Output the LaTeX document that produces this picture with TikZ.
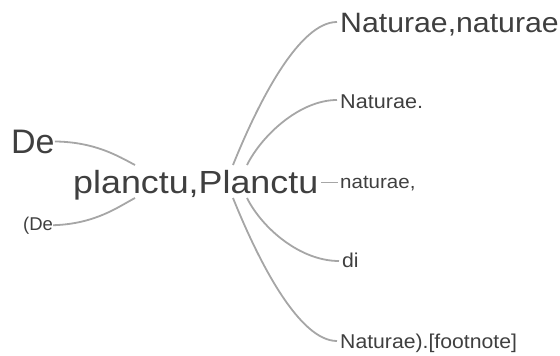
\documentclass[tikz,border=0pt]{standalone}
\usepackage{fontspec}
\setmainfont{Liberation Sans}
\usepackage{graphicx}
\definecolor{txt}{HTML}{3F3F3F}
\definecolor{lnk}{HTML}{A6A6A6}
\newcommand\hx[2]{\scalebox{#1}[1]{#2}}
\newcommand\fsz[1]{\fontsize{#1}{#1}\selectfont}
\begin{document}
\begin{tikzpicture}[x=1pt,y=-1pt,
  lbl/.style={inner sep=0pt, anchor=base west, text=txt},
  link/.style={draw=lnk, line width=1.8pt}]
\useasboundingbox (0,0) rectangle (560,356);
% nodes
\node[lbl, font=\fsz{34}] (de) at (11,153) {De};
\node[lbl, font=\fsz{18.5}] (dep) at (23,230) {(De};
\node[lbl, font=\fsz{32}] (hub) at (73,193) {\hx{1.12}{planctu,Planctu}};
\node[lbl, font=\fsz{28}] (n1) at (340,32) {\hx{1.08}{Naturae,naturae}};
\node[lbl, font=\fsz{20}] (n2) at (340,108) {\hx{1.08}{Naturae.}};
\node[lbl, font=\fsz{19}] (n3) at (340,188) {\hx{1.08}{naturae,}};
\node[lbl, font=\fsz{20}] (n4) at (342,267) {\hx{1.06}{di}};
\node[lbl, font=\fsz{20}] (n5) at (340,348) {\hx{1.06}{Naturae).[footnote]}};
% attach points on the hub
\coordinate (hL1) at (135,165);
\coordinate (hL2) at (135,198);
\coordinate (hR1) at (233,165);
\coordinate (hR2) at (247,165);
\coordinate (hR3) at (321,182.5);
\coordinate (hR4) at (247,198);
\coordinate (hR5) at (233,198);
% attach points at the labels
\coordinate (e1) at (337,22);
\coordinate (e2) at (337,100);
\coordinate (e3) at (338,182.5);
\coordinate (e4) at (339,261);
\coordinate (e5) at (337,341);
% connectors
\draw[link] (de.east) .. controls (95,142) and (118,156) .. (hL1);
\draw[link] (dep.east) .. controls (95,224) and (118,207) .. (hL2);
\draw[link] (hR1) .. controls (260,98) and (300,22) .. (e1);
\draw[link] (hR2) .. controls (262,135) and (300,100) .. (e2);
\draw[link] (hR3) -- (e3);
\draw[link] (hR4) .. controls (262,228) and (300,261) .. (e4);
\draw[link] (hR5) .. controls (260,265) and (300,341) .. (e5);
\end{tikzpicture}
\end{document}
